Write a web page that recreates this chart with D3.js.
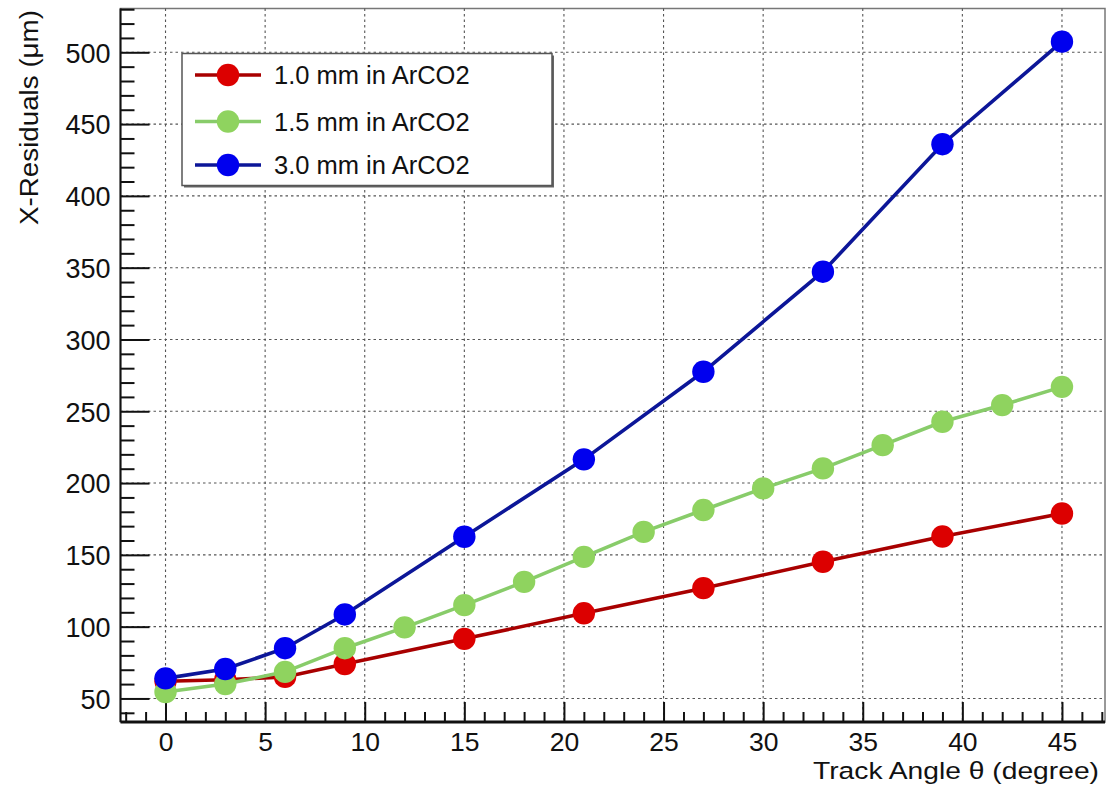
<!DOCTYPE html>
<html>
<head>
<meta charset="utf-8">
<script src="https://cdn.jsdelivr.net/npm/d3@7"></script>
<style>
  html, body { margin: 0; padding: 0; background: #fff; }
  svg text { font-family: "Liberation Sans", Arial, Helvetica, sans-serif; fill: #111; }
</style>
</head>
<body>
<svg id="chart" width="1110" height="789"></svg>
<script>
// Residuals vs track angle for three gap sizes in ArCO2
const anglesThin = [0, 3, 6, 9, 15, 21, 27, 33, 39, 45];
const residThin = [62, 63, 65, 74, 91.5, 109.3, 126.8, 145.2, 162.8, 178.8];

const anglesMid = [0, 3, 6, 9, 12, 15, 18, 21, 24, 27, 30, 33, 36, 39, 42, 45];
const residMid = [54.5, 60, 68.5, 85, 99.5, 115, 131.2, 148.6, 166, 181.2, 196.3, 210.2, 226.4, 242.7, 254.3, 267];

const anglesThick = [0, 3, 6, 9, 15, 21, 27, 33, 39, 45];
const residThick = [64, 70.5, 85, 108.5, 162.6, 216.5, 277.5, 347.2, 436, 507.4];

const seriesNames = ["1.0 mm in ArCO2", "1.5 mm in ArCO2", "3.0 mm in ArCO2"];
const xTickValues = [0, 5, 10, 15, 20, 25, 30, 35, 40, 45];
const yTickValues = [50, 100, 150, 200, 250, 300, 350, 400, 450, 500];
const xTitle = "Track Angle \u03b8 (degree)";
const yTitle = "X-Residuals (\u03bcm)";

const series = [
  { name: seriesNames[0], x: anglesThin, y: residThin, marker: "#dc0000", line: "#a80000" },
  { name: seriesNames[1], x: anglesMid, y: residMid, marker: "#8fd35f", line: "#88cc6a" },
  { name: seriesNames[2], x: anglesThick, y: residThick, marker: "#0000ee", line: "#0c1698" }
];

const svg = d3.select("#chart");
const L = 120.5, R = 1105, T = 8.5, B = 722;

const x = d3.scaleLinear().domain([-2.26, 47.16]).range([L, R]);
const y = d3.scaleLinear().domain([33.6, 530.5]).range([B, T]);

// frame
svg.append("rect")
  .attr("x", L).attr("y", T).attr("width", R - L).attr("height", B - T)
  .attr("fill", "#fff").attr("stroke", "#777").attr("stroke-width", 1.5);

// grid
const grid = svg.append("g").attr("stroke", "#555").attr("stroke-width", 1.1)
  .attr("stroke-dasharray", "2.5,3").attr("fill", "none");
grid.selectAll("line.gx").data(xTickValues).join("line")
  .attr("x1", d => x(d)).attr("x2", d => x(d)).attr("y1", T).attr("y2", B);
grid.selectAll("line.gy").data(yTickValues).join("line")
  .attr("y1", d => y(d)).attr("y2", d => y(d)).attr("x1", L).attr("x2", R);

// axes with inward ticks
const xMinor = d3.range(-2, 48, 1).filter(v => v % 5 !== 0);
const yMinor = d3.range(40, 531, 10).filter(v => v % 50 !== 0);

const xAxis = svg.append("g").attr("transform", `translate(0,${B})`)
  .call(d3.axisBottom(x).tickValues(xTickValues).tickSize(-20).tickPadding(12).tickFormat(d3.format("d")));
xAxis.select(".domain").remove();
xAxis.selectAll(".tick line").attr("stroke", "#111").attr("stroke-width", 2);
xAxis.selectAll(".tick text").attr("font-size", 26.5).attr("dy", "0.71em").attr("y", 10);

const xAxisMinor = svg.append("g").attr("transform", `translate(0,${B})`)
  .call(d3.axisBottom(x).tickValues(xMinor).tickSize(-10).tickFormat(""));
xAxisMinor.select(".domain").remove();
xAxisMinor.selectAll(".tick line").attr("stroke", "#111").attr("stroke-width", 2);

const yAxis = svg.append("g").attr("transform", `translate(${L},0)`)
  .call(d3.axisLeft(y).tickValues(yTickValues).tickSize(-29).tickPadding(12).tickFormat(d3.format("d")));
yAxis.select(".domain").remove();
yAxis.selectAll(".tick line").attr("stroke", "#111").attr("stroke-width", 2);
yAxis.selectAll(".tick text").attr("font-size", 27).attr("x", -10).attr("dy", "0.36em");

const yAxisMinor = svg.append("g").attr("transform", `translate(${L},0)`)
  .call(d3.axisLeft(y).tickValues(yMinor).tickSize(-14).tickFormat(""));
yAxisMinor.select(".domain").remove();
yAxisMinor.selectAll(".tick line").attr("stroke", "#111").attr("stroke-width", 2);

// axis lines
svg.append("line").attr("x1", L).attr("x2", R).attr("y1", B).attr("y2", B)
  .attr("stroke", "#111").attr("stroke-width", 3);
svg.append("line").attr("x1", L).attr("x2", L).attr("y1", T).attr("y2", B)
  .attr("stroke", "#111").attr("stroke-width", 2);

// axis titles
svg.append("text").attr("x", 1099).attr("y", 779).attr("text-anchor", "end")
  .attr("font-size", 24.5).attr("textLength", 286).attr("lengthAdjust", "spacingAndGlyphs")
  .text(xTitle);
svg.append("text").attr("transform", "translate(38,10) rotate(-90)").attr("text-anchor", "end")
  .attr("font-size", 26).attr("textLength", 215).attr("lengthAdjust", "spacingAndGlyphs")
  .text(yTitle);

// series: line first, then markers
const lineGen = d3.line().x(d => x(d[0])).y(d => y(d[1]));
series.forEach(s => {
  const pts = s.x.map((v, i) => [v, s.y[i]]);
  const g = svg.append("g");
  g.append("path").datum(pts).attr("d", lineGen)
    .attr("fill", "none").attr("stroke", s.line).attr("stroke-width", 3.6);
  g.selectAll("circle").data(pts).join("circle")
    .attr("cx", d => x(d[0])).attr("cy", d => y(d[1])).attr("r", 11.2)
    .attr("fill", s.marker);
});

// legend
const lg = svg.append("g");
const lx = 182, ly = 53.5, lw = 370, lh = 132;
lg.append("rect").attr("x", lx + 2).attr("y", ly + 2).attr("width", lw).attr("height", lh).attr("fill", "#666");
lg.append("rect").attr("x", lx).attr("y", ly).attr("width", lw).attr("height", lh)
  .attr("fill", "#fff").attr("stroke", "#555").attr("stroke-width", 1.5);
const rowY = [75, 121.5, 165];
series.forEach((s, i) => {
  lg.append("line").attr("x1", 195).attr("x2", 261).attr("y1", rowY[i]).attr("y2", rowY[i])
    .attr("stroke", s.line).attr("stroke-width", 3.6);
  lg.append("circle").attr("cx", 228).attr("cy", rowY[i]).attr("r", 11.2).attr("fill", s.marker);
  lg.append("text").attr("x", 274).attr("y", rowY[i]).attr("dy", "0.36em")
    .attr("font-size", 25.5).text(s.name);
});
</script>
</body>
</html>
